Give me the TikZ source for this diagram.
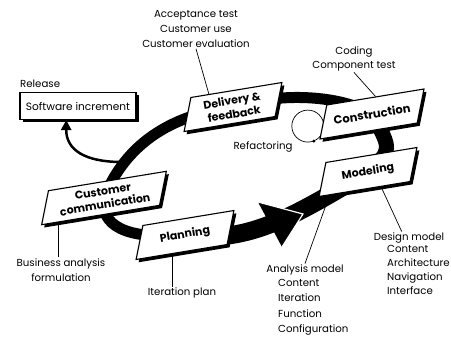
\documentclass[tikz,border=0pt]{standalone}
\usepackage{fontspec}
\setmainfont{Poppins}
\usetikzlibrary{arrows.meta,calc,shadows,backgrounds}
\tikzset{
  phasebox/.style={draw, line width=1.1pt, fill=white, inner sep=3pt, minimum height=34pt,
    xslant=0.2, yslant=0.17,
    general shadow={fill=black, shadow xshift=2.5pt, shadow yshift=-2.8pt}},
  phasetext/.style={align=center, inner sep=0pt, rotate=9.5, font=\bfseries\fontsize{11}{13.5}\selectfont},
  outbox/.style={draw, line width=1.1pt, fill=white, minimum width=116pt, minimum height=27pt, inner sep=2pt,
    font=\fontsize{10.6}{12}\selectfont,
    general shadow={fill=black, shadow xshift=2.5pt, shadow yshift=-2.5pt}},
  lbl/.style={align=center, inner sep=1pt, font=\fontsize{10.2}{15}\selectfont},
  lbline/.style={line width=0.7pt},
  band/.style={line width=11pt, black},
  bandwide/.style={line width=18pt, black},
  relarrow/.style={line width=2.5pt, -{Triangle[length=10pt,width=10pt]}}
}
\begin{document}
\begin{tikzpicture}[x=1pt,y=-1pt]
\useasboundingbox (0,0) rectangle (451,341);
\node[phasebox, minimum width=114pt] (comm) at (104,198) {};
\node[phasetext] (commtxt) at (comm.center) {Customer\\communication};
\node[phasebox, minimum width=88pt] (plan) at (185,235) {};
\node[phasetext] (plantxt) at (plan.center) {Planning};
\node[phasebox, minimum width=88pt] (model) at (368,172) {};
\node[phasetext] (modeltxt) at (model.center) {Modeling};
\node[phasebox, minimum width=94pt] (constr) at (372,114) {};
\node[phasetext, font=\bfseries\fontsize{11.5}{13.5}\selectfont] (constrtxt) at (constr.center) {Construction};
\node[phasebox, minimum width=88pt] (deliv) at (233,107) {};
\node[phasetext] (delivtxt) at (deliv.center) {Delivery \&\\feedback};
\node[outbox] (incr) at (78,106) {Software increment};
\node[lbl, anchor=west] (rel) at (19,84) {Release};
\node[lbl] (acc) at (196,29) {Acceptance test\\Customer use\\Customer evaluation};
\node[lbl, font=\fontsize{10.2}{14}\selectfont] (code) at (354,59) {Coding\\Component test};
\node[lbl] (refac) at (263,147) {Refactoring};
\node[lbl] (bus) at (61,270) {Business analysis\\formulation};
\node[lbl] (iter) at (182,293) {Iteration plan};
\node[lbl] (ana) at (305,270) {Analysis model};
\node[lbl, anchor=north west, align=left, font=\fontsize{10.2}{15.5}\selectfont] (anaitems) at (277,278) {Content\\Iteration\\Function\\Configuration};
\node[lbl] (des) at (409,238) {Design model};
\node[lbl, anchor=north west, align=left, font=\fontsize{10.2}{14}\selectfont] (desitems) at (386,244) {Content\\Architecture\\Navigation\\Interface};
\draw[lbline] (acc.south) -- ($(deliv.north west)!0.2!(deliv.north east)$);
\draw[lbline] (code.south) -- (constr.north);
\draw[lbline] ($(comm.south west)!0.15!(comm.south east)$) coordinate (cf) -- (cf |- bus.north);
\draw[lbline] ($(plan.south west)!0.4!(plan.south east)$) coordinate (pf) -- (pf |- iter.north);
\draw[lbline] ($(model.south west)!0.12!(model.south east)$) -- (ana.north);
\draw[lbline] ($(model.south west)!0.68!(model.south east)$) -- ($(des.north west)!0.4!(des.north east)$);
\begin{scope}[on background layer]
\draw[band] (deliv.center) .. controls (170,115) and (125,145) .. (comm.center)
  .. controls (100,225) and (125,240) .. (plan.center);
\draw[band] (constr.center) .. controls (340,95) and (280,92) .. (deliv.center);
\draw[band, line width=15pt] (model.center) .. controls (392,150) .. (constr.center);
\draw[bandwide] (plan.center) .. controls (250,245) and (300,212) .. (model.center);
\fill[black] (258,202) -- (303,214) -- (282,247) -- cycle;
\draw[white, line width=1.2pt] (258,202) -- (303,214) -- (282,247);
\coordinate (refc) at ($(constr.west)+(-15,4)$);
\draw[lbline] (refc) circle (16);
\fill ($(refc)+(6,15)$) circle (1.6pt);
\coordinate (relstart) at (122,162);
\draw[relarrow] (relstart) .. controls (85,162) and (66,150) .. ($(incr.south west)!0.4!(incr.south east)$);
\end{scope}
\end{tikzpicture}
\end{document}
